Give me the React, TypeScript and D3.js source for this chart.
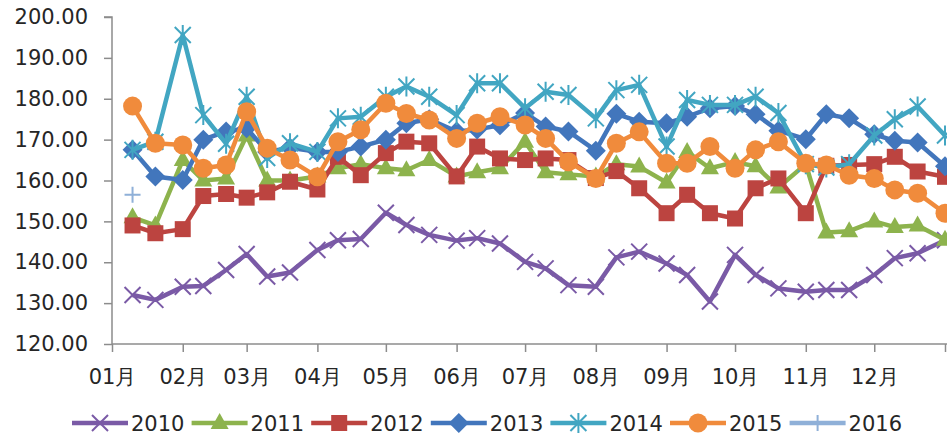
import { useEffect, useRef } from 'react';
import * as d3 from 'd3';

// 每旬数据点 (上旬/中旬/下旬)
const periods = [
  '2015-01-10', '2015-01-20', '2015-02-01', '2015-02-10', '2015-02-20', '2015-03-01',
  '2015-03-10', '2015-03-20', '2015-04-01', '2015-04-10', '2015-04-20', '2015-05-01',
  '2015-05-10', '2015-05-20', '2015-06-01', '2015-06-10', '2015-06-20', '2015-07-01',
  '2015-07-10', '2015-07-20', '2015-08-01', '2015-08-10', '2015-08-20', '2015-09-01',
  '2015-09-10', '2015-09-20', '2015-10-01', '2015-10-10', '2015-10-20', '2015-11-01',
  '2015-11-10', '2015-11-20', '2015-12-01', '2015-12-10', '2015-12-20', '2016-01-01',
];

const yTicks = [120, 130, 140, 150, 160, 170, 180, 190, 200];

const s2010 = [132.0, 130.8, 134.0, 134.2, 138.1, 142.0, 136.5, 137.5, 143.0, 145.4, 145.7, 152.1,
  149.1, 146.7, 145.3, 145.9, 144.6, 140.1, 138.5, 134.4, 134.0, 141.2, 142.6, 139.7,
  136.9, 130.4, 141.8, 136.9, 133.6, 132.8, 133.2, 133.2, 136.9, 141.0, 142.2, 145.4];
const s2011 = [151.0, 149.0, 165.0, 160.0, 160.5, 171.0, 160.0, 160.0, 161.0, 163.0, 164.0, 163.0,
  162.5, 165.0, 161.0, 162.0, 163.0, 169.5, 162.0, 161.5, 161.0, 164.0, 163.4, 159.5,
  167.0, 163.0, 164.5, 163.5, 158.3, 164.0, 147.3, 147.6, 150.0, 148.6, 149.0, 145.5];
const s2012 = [149.0, 147.1, 148.1, 156.2, 156.7, 155.8, 157.1, 159.7, 157.8, 165.8, 161.3, 166.7,
  169.5, 169.1, 161.0, 168.3, 165.4, 165.0, 165.4, 165.0, 160.6, 162.3, 158.1, 152.0,
  156.5, 152.0, 150.7, 158.1, 160.5, 152.0, 163.6, 163.8, 164.0, 165.8, 162.2, 160.9];
const s2013 = [167.5, 161.0, 160.1, 170.0, 172.0, 172.8, 167.0, 168.0, 167.0, 167.0, 168.3, 170.0,
  174.0, 175.0, 172.0, 172.5, 173.5, 176.5, 173.2, 172.0, 167.3, 176.3, 174.4, 174.0,
  175.6, 177.7, 178.2, 176.2, 172.2, 170.1, 176.2, 175.2, 171.3, 169.7, 169.3, 163.5];
const s2014 = [167.5, 169.5, 195.6, 176.0, 169.0, 180.5, 165.5, 169.1, 167.0, 175.2, 175.6, 180.5,
  183.0, 180.5, 176.0, 183.8, 183.8, 177.7, 181.7, 180.9, 175.2, 182.1, 183.4, 168.3,
  179.7, 178.5, 178.5, 180.5, 176.5, 164.0, 163.2, 164.0, 171.0, 175.0, 178.1, 171.0];
const s2015 = [178.2, 169.1, 168.7, 163.0, 163.8, 176.8, 167.9, 165.0, 160.9, 169.5, 172.4, 178.9,
  176.4, 174.8, 170.3, 174.0, 175.6, 173.6, 170.3, 164.6, 160.5, 169.1, 171.9, 164.2,
  164.2, 168.3, 163.0, 167.5, 169.5, 164.2, 163.8, 161.3, 160.5, 157.7, 156.9, 152.0];
const s2016 = [156.5];

type Shape = 'x' | 'triangle' | 'square' | 'diamond' | 'star' | 'circle' | 'plus';

interface Series {
  name: string;
  values: number[];
  color: string;
  shape: Shape;
}

const series: Series[] = [
  { name: '2010', values: s2010, color: '#7A5AA6', shape: 'x' },
  { name: '2011', values: s2011, color: '#8DB34D', shape: 'triangle' },
  { name: '2012', values: s2012, color: '#BC4440', shape: 'square' },
  { name: '2013', values: s2013, color: '#4276BC', shape: 'diamond' },
  { name: '2014', values: s2014, color: '#42A6C2', shape: 'star' },
  { name: '2015', values: s2015, color: '#F08B3C', shape: 'circle' },
  { name: '2016', values: s2016, color: '#8FB0D8', shape: 'plus' },
];

const FONT = 'DejaVu Sans, sans-serif';

function drawMarker(
  g: d3.Selection<SVGGElement, unknown, null, undefined>,
  shape: Shape,
  x: number,
  y: number,
  color: string
) {
  const m = g.append('g').attr('transform', `translate(${x},${y})`);
  if (shape === 'circle') {
    m.append('circle').attr('r', 9.5).attr('fill', color);
  } else if (shape === 'square') {
    m.append('rect').attr('x', -8).attr('y', -8).attr('width', 16).attr('height', 16).attr('fill', color);
  } else if (shape === 'diamond') {
    m.append('path').attr('d', 'M0,-10L10,0L0,10L-10,0Z').attr('fill', color);
  } else if (shape === 'triangle') {
    m.append('path').attr('d', 'M0,-10L9,6L-9,6Z').attr('fill', color);
  } else if (shape === 'x') {
    m.append('path')
      .attr('d', 'M-8,-8L8,8M-8,8L8,-8')
      .attr('stroke', color)
      .attr('stroke-width', 2);
  } else if (shape === 'star') {
    m.append('path')
      .attr('d', 'M-8,-8L8,8M-8,8L8,-8M0,-10L0,10')
      .attr('stroke', color)
      .attr('stroke-width', 2);
  } else if (shape === 'plus') {
    m.append('path')
      .attr('d', 'M-8,0L8,0M0,-8L0,8')
      .attr('stroke', color)
      .attr('stroke-width', 2);
  }
}

export default function App() {
  const svgRef = useRef<SVGSVGElement>(null);

  useEffect(() => {
    if (!svgRef.current) return;
    const svg = d3.select(svgRef.current);
    svg.selectAll('*').remove();

    const width = 947;
    const height = 435;
    const left = 112;
    const top = 17;
    const bottom = 344;

    const parse = d3.timeParse('%Y-%m-%d');
    const dates = periods.map((p) => parse(p) as Date);

    const x = d3
      .scaleTime()
      .domain([new Date(2015, 0, 1), new Date(2016, 0, 1)])
      .range([left, 945]);
    const y = d3.scaleLinear().domain([120, 200]).range([bottom, top]);

    svg.append('rect').attr('width', width).attr('height', height).attr('fill', '#fff');

    // Y axis
    const yAxis = svg
      .append('g')
      .attr('transform', `translate(${left},0)`)
      .call(
        d3
          .axisLeft(y)
          .tickValues(yTicks)
          .tickSize(8)
          .tickPadding(16)
          .tickFormat((d) => d3.format('.2f')(d as number))
      );
    yAxis.selectAll('text').attr('fill', '#262626').attr('font-size', '21px').attr('font-family', FONT);

    // X axis
    const monthTicks = d3.timeMonth.range(new Date(2015, 0, 1), new Date(2016, 0, 2));
    const xAxis = svg
      .append('g')
      .attr('transform', `translate(0,${bottom})`)
      .call(
        d3
          .axisBottom(x)
          .tickValues(monthTicks)
          .tickSize(8)
          .tickPadding(17)
          .tickFormat((d) => ((d as Date).getFullYear() === 2015 ? d3.timeFormat('%m月')(d as Date) : ''))
      );
    xAxis.selectAll('text').attr('fill', '#262626').attr('font-size', '21px').attr('font-family', FONT);

    svg.selectAll('.domain').attr('stroke', '#8C8C8C').attr('stroke-width', 1.5);
    svg.selectAll('.tick line').attr('stroke', '#8C8C8C').attr('stroke-width', 1.5);
    yAxis.select('.domain').attr('d', `M-8,${top}H0V${bottom}`);
    xAxis.select('.domain').attr('d', `M${left},0H${width}`);

    // Series lines and markers
    const line = d3
      .line<number>()
      .x((_, i) => x(dates[i]))
      .y((d) => y(d));

    series.forEach((s) => {
      const g = svg.append('g');
      if (s.values.length > 1) {
        g.append('path')
          .datum(s.values)
          .attr('fill', 'none')
          .attr('stroke', s.color)
          .attr('stroke-width', 4.5)
          .attr('stroke-linejoin', 'round')
          .attr('d', line);
      }
      s.values.forEach((v, i) => drawMarker(g, s.shape, x(dates[i]), y(v), s.color));
    });

    // Legend
    const legend = svg.append('g').attr('transform', 'translate(72,423)');
    series.forEach((s, i) => {
      const item = legend.append('g').attr('transform', `translate(${i * 119.6},0)`);
      item
        .append('line')
        .attr('x1', 0)
        .attr('x2', 56)
        .attr('y1', 0)
        .attr('y2', 0)
        .attr('stroke', s.color)
        .attr('stroke-width', 4.5);
      drawMarker(item, s.shape, 28, 0, s.color);
      item
        .append('text')
        .attr('x', 59)
        .attr('y', 7.5)
        .attr('fill', '#262626')
        .attr('font-size', '21px')
        .attr('font-family', FONT)
        .text(s.name);
    });
  }, []);

  return (
    <svg
      ref={svgRef}
      width={947}
      height={435}
      style={{ position: 'absolute', left: 0, top: 0, display: 'block' }}
    />
  );
}
